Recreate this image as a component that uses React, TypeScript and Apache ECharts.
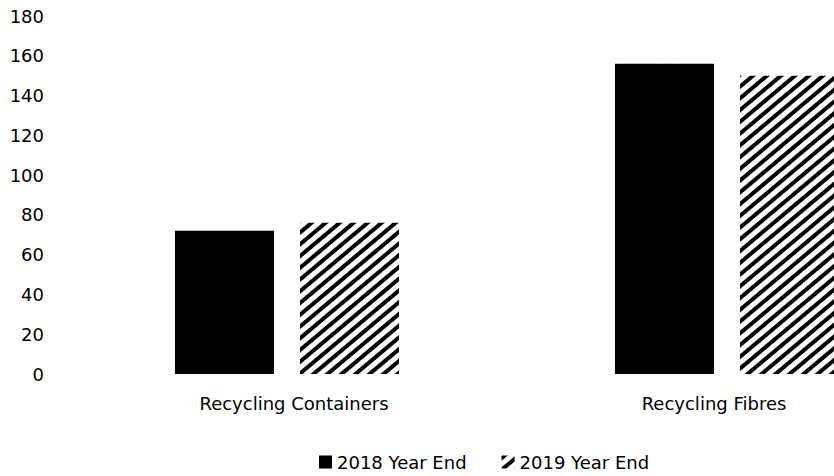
import React, { useEffect, useRef } from "react";
import * as echarts from "echarts";

const categories = ["Recycling Containers", "Recycling Fibres"];
const seriesNames = ["2018 Year End", "2019 Year End"];
const values2018 = [72, 156];
const values2019 = [76, 150];
const yTicks = { min: 0, max: 180, interval: 20 };

const FONT = "DejaVu Sans";
const FS = 18;

export default function App() {
  const ref = useRef<HTMLDivElement>(null);
  useEffect(() => {
    document.body.style.margin = "0";
    if (!ref.current) return;
    const chart = echarts.init(ref.current, undefined, { renderer: "svg" });
    chart.setOption({
      animation: false,
      backgroundColor: "#ffffff",
      aria: { enabled: true, decal: { show: true } },
      grid: { left: 67, top: 16, width: 880, height: 358, outerBoundsMode: "none", containLabel: false },
      legend: {
        left: 319,
        top: 453,
        padding: 0,
        itemWidth: 13,
        itemHeight: 13,
        itemGap: 35,
        icon: "rect",
        textStyle: { fontFamily: FONT, fontSize: FS, color: "#000" },
        data: seriesNames,
      },
      xAxis: {
        type: "category",
        data: categories,
        axisLine: { show: false },
        axisTick: { show: false },
        splitLine: { show: false },
        axisLabel: {
          interval: 0,
          margin: 20,
          color: "#000",
          fontFamily: FONT,
          fontSize: FS,
          formatter: (v: string) => (v === categories[0] ? `{a|${v}}` : `{b|${v}}`),
          rich: {
            a: { fontFamily: FONT, fontSize: FS, color: "#000", padding: [0, 0, 0, 14] },
            b: { fontFamily: FONT, fontSize: FS, color: "#000", padding: [0, 26, 0, 0] },
          },
        },
      },
      yAxis: {
        type: "value",
        min: yTicks.min,
        max: yTicks.max,
        interval: yTicks.interval,
        axisLine: { show: false },
        axisTick: { show: false },
        splitLine: { show: false },
        axisLabel: { margin: 23, color: "#000", fontFamily: FONT, fontSize: FS },
      },
      series: [
        {
          name: seriesNames[0],
          type: "bar",
          data: values2018,
          barWidth: 99,
          barGap: "26.3%",
          itemStyle: { color: "#000", decal: "none" },
        },
        {
          name: seriesNames[1],
          type: "bar",
          data: values2019,
          barWidth: 99,
          barGap: "26.3%",
          itemStyle: {
            color: "#fff",
            decal: {
              symbol: "rect",
              symbolSize: 1,
              color: "#000",
              backgroundColor: "#fff",
              dashArrayX: [1, 0],
              dashArrayY: [4, 4.5],
              rotation: (-40 * Math.PI) / 180,
            },
          },
        },
      ],
    });
    return () => chart.dispose();
  }, []);
  return <div ref={ref} style={{ width: 834, height: 476 }} />;
}
